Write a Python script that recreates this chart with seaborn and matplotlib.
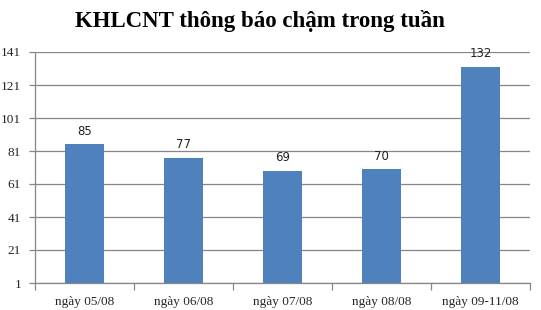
import matplotlib
matplotlib.use("Agg")
import matplotlib.pyplot as plt
import seaborn as sns
import pandas as pd

categories = ["ngày 05/08", "ngày 06/08", "ngày 07/08", "ngày 08/08", "ngày 09-11/08"]
values = [85, 77, 69, 70, 132]
yticks = [1, 21, 41, 61, 81, 101, 121, 141]
title = "KHLCNT thông báo chậm trong tuần"

sns.set_theme(style="white")
plt.rcParams['font.family'] = ['Liberation Serif', 'DejaVu Serif']

df = pd.DataFrame({"cat": categories, "val": values})

fig = plt.figure(figsize=(5.41, 3.10), dpi=100)
ax = fig.add_axes([35/541, 27/310, 495/541, 231/310])

ymin = yticks[0]
sns.barplot(data=df, x="cat", y="val", color="#4F81BD", width=0.4,
            saturation=1, ax=ax, zorder=3)

# bars start from axis minimum
for p in ax.patches:
    h = p.get_height()
    p.set_y(ymin)
    p.set_height(h - ymin)
    p.set_edgecolor("none")

for i, v in enumerate(values):
    ax.text(i, v + 4, str(v), ha="center", va="bottom", fontsize=8.5,
            family=["DejaVu Sans"], color="#222222", zorder=4)

ax.set_ylim(ymin, yticks[-1])
ax.set_xlim(-0.5, len(categories) - 0.5)
ax.set_yticks(yticks)
ax.set_yticklabels([str(t) for t in yticks], fontsize=9.5)
ax.set_xticks(range(len(categories)))
ax.set_xticklabels(categories, fontsize=9.5)
ax.set_xlabel("")
ax.set_ylabel("")

ax.yaxis.grid(True, color="#868686", linewidth=0.9, zorder=0)
ax.set_axisbelow(True)
for s in ["top", "right"]:
    ax.spines[s].set_visible(False)
for s in ["left", "bottom"]:
    ax.spines[s].set_color("#868686")
    ax.spines[s].set_linewidth(0.9)

ax.tick_params(axis="y", which="major", length=4, color="#868686", width=0.9,
               left=True, pad=6)
ax.tick_params(axis="x", which="major", length=0, pad=9)
ax.set_xticks([i - 0.5 for i in range(len(categories) + 1)], minor=True)
ax.tick_params(axis="x", which="minor", length=5, color="#868686", width=0.9,
               bottom=True, direction="out")

fig.text(260/541, 1 - 21/310, title, ha="center", va="center", fontsize=16.5,
         fontweight="bold", color="black")

fig.savefig("out.png", dpi=100)
